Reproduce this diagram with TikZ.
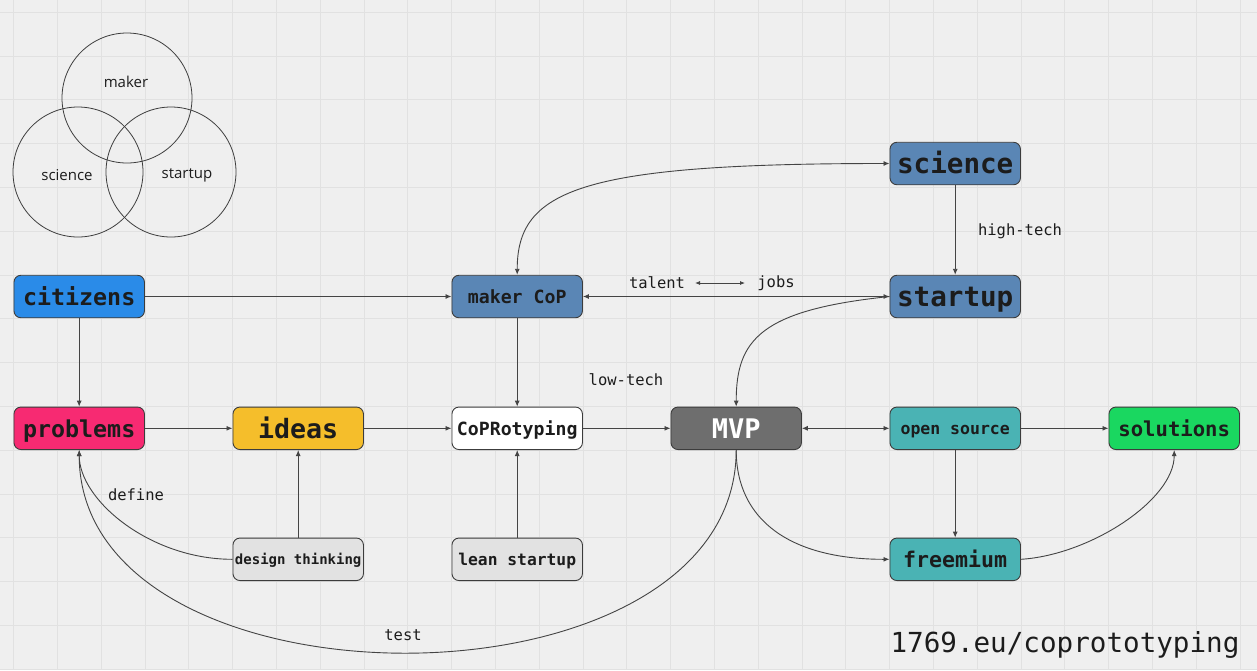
\documentclass[tikz,border=0pt]{standalone}
\usepackage{fontspec}
\setmainfont{Open Sans}
\newfontfamily\monofont{DejaVu Sans Mono}
\usetikzlibrary{arrows.meta}
\definecolor{bgc}{HTML}{EFEFEF}
\definecolor{gridc}{HTML}{E1E1E1}
\definecolor{bordc}{HTML}{3C3C3C}
\definecolor{linec}{HTML}{444444}
\definecolor{txtc}{HTML}{1C1C1C}
\definecolor{cblue}{HTML}{2A8BE8}
\definecolor{csteel}{HTML}{5A86B5}
\definecolor{cpink}{HTML}{F72A72}
\definecolor{cyellow}{HTML}{F5BE2B}
\definecolor{cgray}{HTML}{6E6E6E}
\definecolor{cteal}{HTML}{4AB3B4}
\definecolor{cgreen}{HTML}{1AD760}
\definecolor{clight}{HTML}{E2E2E2}
\tikzset{
  box/.style={draw=bordc, line width=0.9pt, rounded corners=7pt,
    minimum width=130.5pt, minimum height=42.5pt, inner sep=0pt, text=txtc,
    text height={0.78*#1pt}, text depth={0.02*#1pt},
    font=\monofont\bfseries\fontsize{#1}{#1}\selectfont},
  arr/.style={draw=linec, line width=0.9pt, -{Latex[length=6pt,width=5pt]}},
  dbl/.style={draw=linec, line width=0.9pt, {Latex[length=6pt,width=5pt]}-{Latex[length=6pt,width=5pt]}},
  lbl/.style={font=\monofont\fontsize{15.5}{16}\selectfont, text=txtc, inner sep=0pt},
  venn/.style={draw=bordc, line width=0.8pt},
  vlbl/.style={font=\fontsize{15}{16}\selectfont, text=txtc, inner sep=0pt}
}
\begin{document}
\begin{tikzpicture}[x=1pt,y=-1pt]
\useasboundingbox (0,0) rectangle (1257,670);
\fill[bgc] (0,0) rectangle (1257,670);
\foreach \i in {0,...,28} \draw[gridc, line width=0.8pt] ({13.5+43.8*\i},0) -- ({13.5+43.8*\i},670);
\foreach \j in {0,...,15} \draw[gridc, line width=0.8pt] (0,{12.2+43.8*\j}) -- (1257,{12.2+43.8*\j});

% Venn diagram
\draw[venn] (127,98) circle (65);
\draw[venn] (78,172) circle (65);
\draw[venn] (171,172) circle (65);
\node[vlbl] (vmaker) at (126,82) {maker};
\node[vlbl] (vscience) at (67,175) {science};
\node[vlbl] (vstartup) at (187,175) {startup};

% nodes
\node[box=27.6, fill=csteel] (science) at (955.2,163.5) {science};
\node[box=27.6, fill=csteel] (startup) at (955.2,296.5) {startup};
\node[box=23.3, fill=cblue] (citizens) at (79.2,296.5) {citizens};
\node[box=18.2, fill=csteel] (makercop) at (517.2,296.5) {maker CoP};
\node[box=23.3, fill=cpink] (problems) at (79.2,428.3) {problems};
\node[box=26.6, fill=cyellow] (ideas) at (298.2,428.3) {ideas};
\node[box=18.2, fill=white] (coprotyping) at (517.2,428.3) {CoPRotyping};
\node[box=27, fill=cgray, text=white] (mvp) at (736.2,428.3) {MVP};
\node[box=16.5, fill=cteal] (opensource) at (955.2,428.3) {open source};
\node[box=20.6, fill=cgreen] (solutions) at (1174.2,428.3) {solutions};
\node[box=14, fill=clight] (design) at (298.2,559.3) {design thinking};
\node[box=16.3, fill=clight] (lean) at (517.2,559.3) {lean startup};
\node[box=21.6, fill=cteal] (freemium) at (955.2,559.3) {freemium};

% straight connectors
\draw[arr] (citizens) -- (makercop);
\draw[arr] (citizens) -- (problems);
\draw[arr] (problems) -- (ideas);
\draw[arr] (ideas) -- (coprotyping);
\draw[arr] (coprotyping) -- (mvp);
\draw[dbl] (mvp) -- (opensource);
\draw[arr] (opensource) -- (solutions);
\draw[arr] (opensource) -- (freemium);
\draw[arr] (design) -- (ideas);
\draw[arr] (lean) -- (coprotyping);
\draw[arr] (makercop) -- (coprotyping);
\draw[arr] (science) -- (startup);
\draw[dbl] (startup.west) -- (makercop.east);

% curved connectors
\draw[dbl] (science.west) .. controls (580,163.5) and (517.2,190) .. (makercop.north);
\draw[arr] (startup.west) .. controls (760,310) and (736.2,340) .. (mvp.north);
\draw[arr] (mvp.south) .. controls (736.2,520) and (790,559.3) .. (freemium.west);
\draw[arr] (freemium.east) .. controls (1090,555) and (1174.2,500) .. (solutions.south);
\draw[arr] (mvp.south) .. controls (736.2,720) and (79.2,720) .. (problems.south);
\draw[arr] (design.west) .. controls (150,559.3) and (79.2,500) .. (problems.south);

% labels
\node[lbl] (talent) at (657,283) {talent};
\node[lbl] (jobs) at (776,283) {jobs};
\coordinate (ta) at (695,283);
\coordinate (tb) at (745,283);
\draw[draw=linec, line width=0.8pt, {Latex[length=5pt,width=4pt]}-{Latex[length=5pt,width=4pt]}] (ta) -- (tb);
\node[lbl] (hightech) at (1020,231) {high-tech};
\node[lbl] (lowtech) at (626,380) {low-tech};
\node[lbl] (define) at (136,495) {define};
\node[lbl] (test) at (403,635) {test};
\node[font=\monofont\fontsize{27.6}{28}\selectfont, text=txtc, inner sep=0pt] (url) at (1065,645) {1769.eu/coprototyping};
\end{tikzpicture}
\end{document}
